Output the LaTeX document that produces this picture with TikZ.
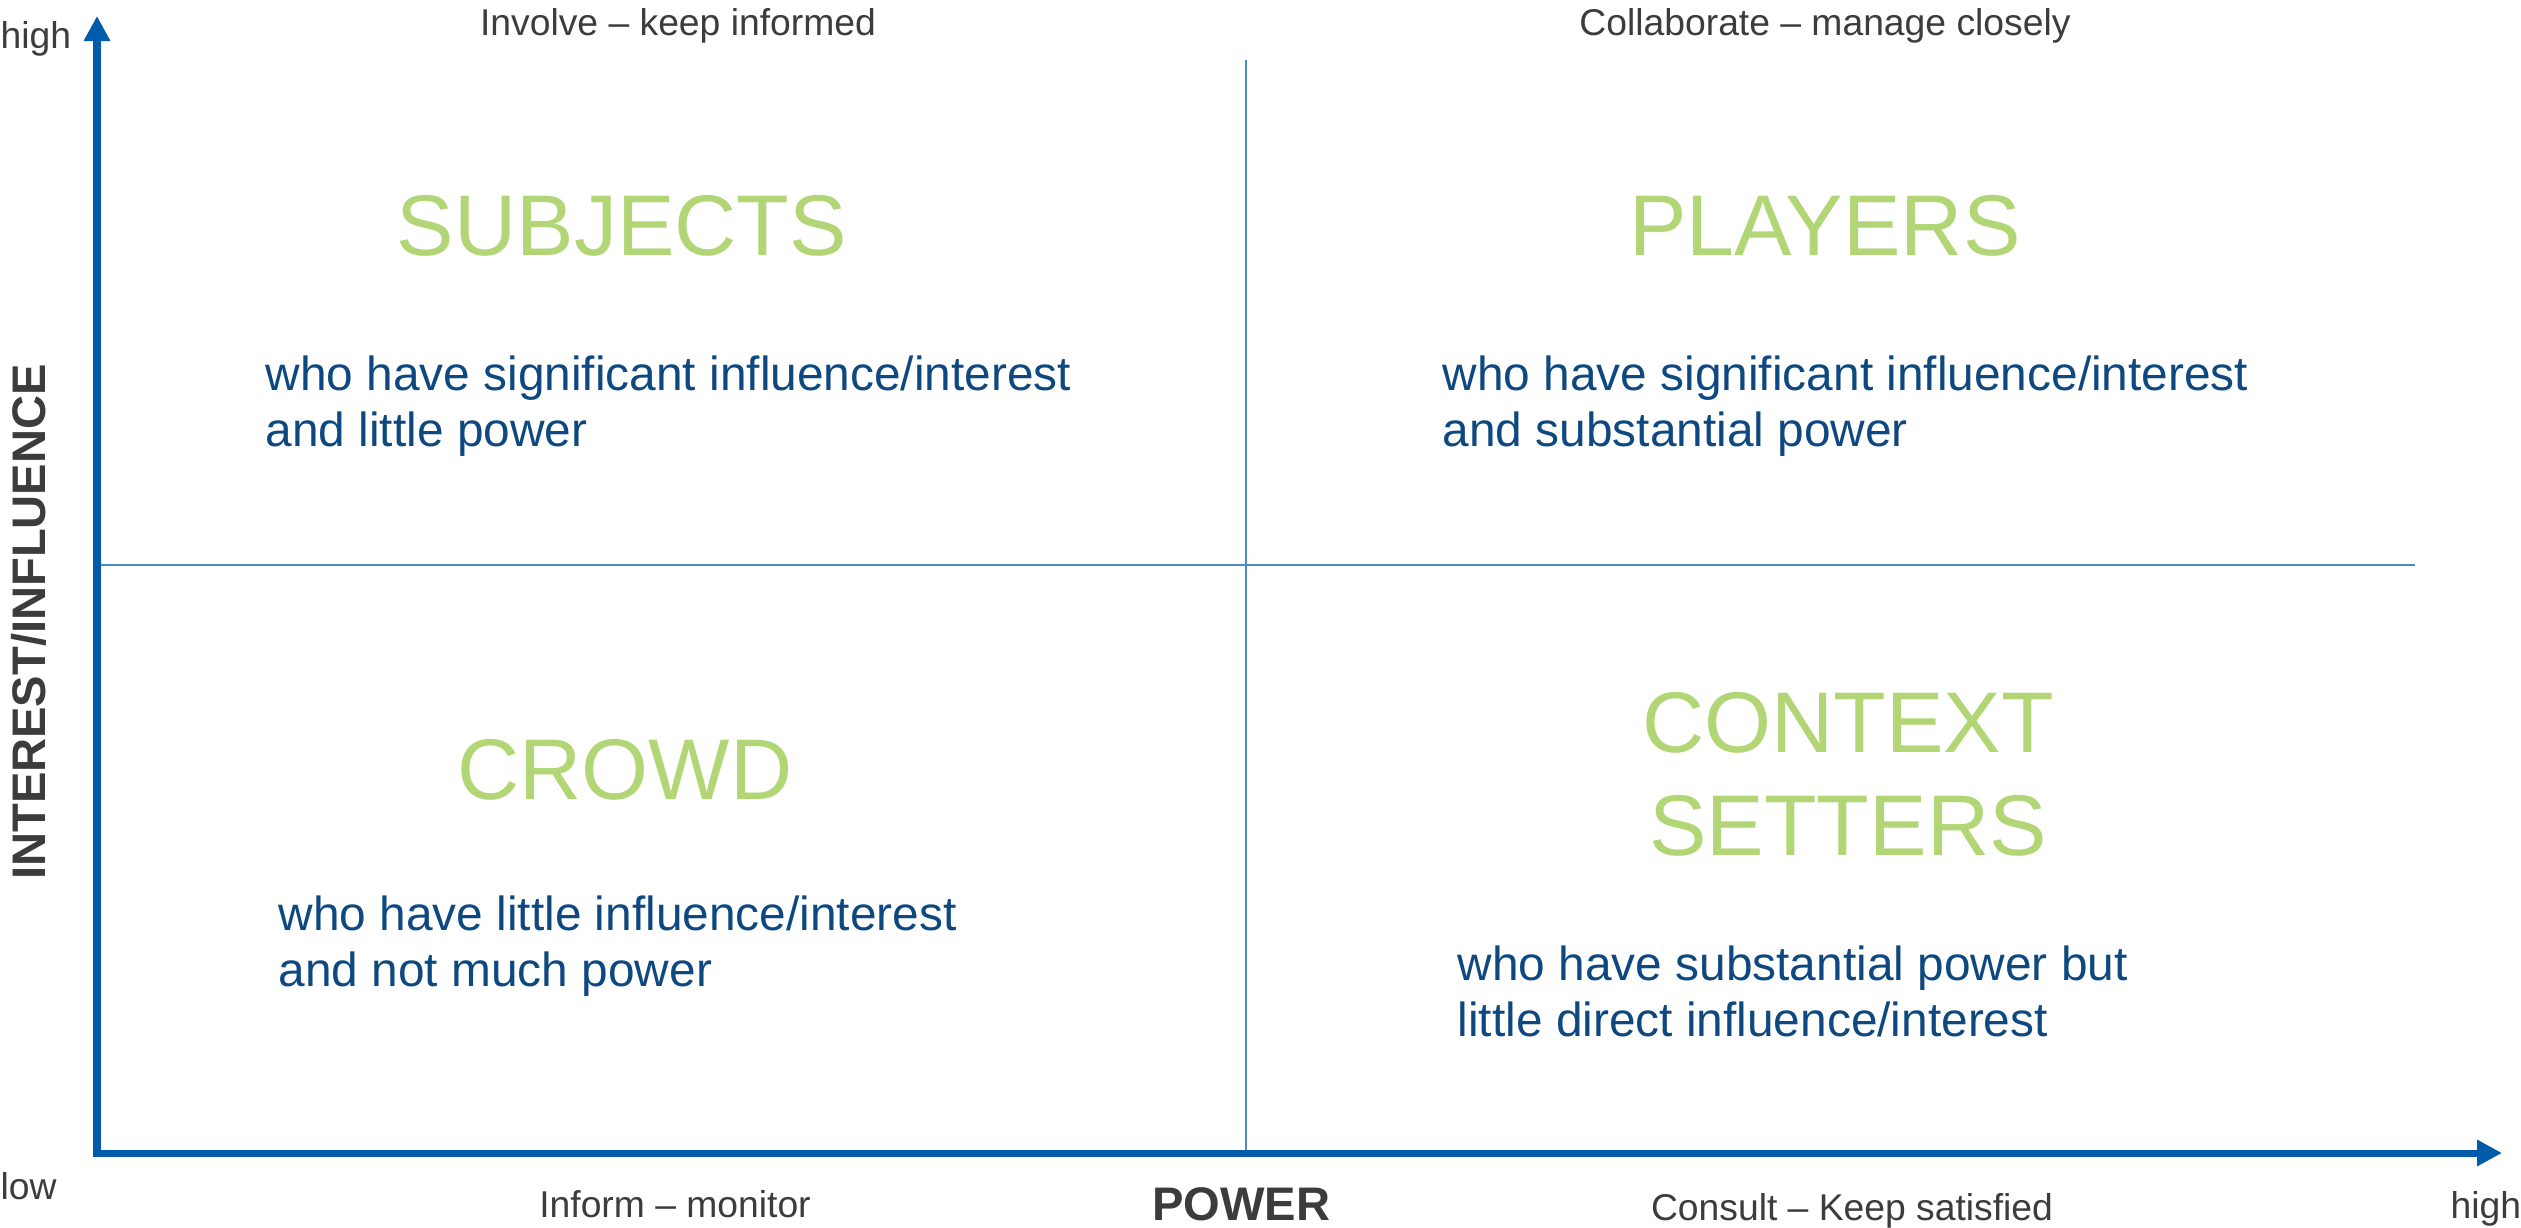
\documentclass[tikz,border=0pt]{standalone}
\usepackage{fontspec}
\setmainfont{Liberation Sans}
\usepackage{xcolor}
\usepackage{tikz}
\usetikzlibrary{
    positioning,
    arrows.meta
}
\definecolor{axisBlue}{RGB}{0, 91, 170}
\definecolor{gridBlue}{RGB}{74, 140, 200}
\definecolor{titleGreen}{RGB}{178, 214, 118}
\definecolor{textBlue}{RGB}{14, 72, 128}
\definecolor{labelGray}{RGB}{60, 60, 60}

\begin{document}
\begin{tikzpicture}[x=0.01cm, y=-0.01cm,
    title/.style={text=titleGreen, inner sep=0, align=center,
        font=\fontsize{24.5}{29.2}\selectfont},
    desc/.style={text=textBlue, inner sep=0, align=left, anchor=north west,
        font=\fontsize{13.6}{15.9}\selectfont},
    small/.style={text=labelGray, inner sep=0, font=\fontsize{10.6}{13}\selectfont},
    axisname/.style={text=labelGray, inner sep=0, font=\fontsize{13.4}{16}\selectfont\bfseries}]
        \useasboundingbox (0, 0) rectangle (2521, 1227);

        \coordinate (O) at (97, 1153);
        \coordinate (Ytip) at (97, 16);
        \coordinate (Xtip) at (2502, 1153);
        \coordinate (Vtop) at (1246, 60);
        \coordinate (Vbot) at (1246, 1153);
        \coordinate (Hleft) at (97, 565);
        \coordinate (Hright) at (2415, 565);

        % Quadrant dividers
        \draw[gridBlue, line width=0.02cm] (Vtop) -- (Vbot);
        \draw[gridBlue, line width=0.02cm] (Hleft) -- (Hright);

        % Axes
        \draw[axisBlue, line width=0.07cm, line join=miter,
            {Triangle[width=0.25cm, length=0.25cm]}-{Triangle[width=0.25cm, length=0.25cm]}]
            (Ytip) -- (O) -- (Xtip);

        % Quadrant titles
        \node[title] (subjects) at (622, 226) {SUBJECTS};
        \node[title] (players) at (1825, 226) {PLAYERS};
        \node[title] (crowd) at (625, 770) {CROWD};
        \node[title] (context) at (1848, 774) {CONTEXT\\SETTERS};

        % Descriptions
        \node[desc] (subjectsText) at (265, 355) {who have significant influence/interest\\and little power};
        \node[desc] (playersText) at (1442, 355) {who have significant influence/interest\\and substantial power};
        \node[desc] (crowdText) at (278, 895) {who have little influence/interest\\and not much power};
        \node[desc] (contextText) at (1457, 945) {who have substantial power but\\little direct influence/interest};

        % Strategies
        \node[small, anchor=base] (involve) at (678, 35) {Involve -- keep informed};
        \node[small, anchor=base] (collaborate) at (1825, 35) {Collaborate -- manage closely};
        \node[small, anchor=base] (inform) at (675, 1217) {Inform -- monitor};
        \node[small, anchor=base] (consult) at (1852, 1220) {Consult -- Keep satisfied};

        % Axis ends and names
        \node[small, anchor=base west] (yHigh) at (0, 48) {high};
        \node[small, anchor=base west] (low) at (0, 1199) {low};
        \node[small, anchor=base west] (xHigh) at (2450, 1218) {high};
        \node[axisname, anchor=north] (power) at (1241, 1187) {POWER};
        \node[axisname, rotate=90] (interest) at (29, 622) {INTEREST/INFLUENCE};
    \end{tikzpicture}
\end{document}
